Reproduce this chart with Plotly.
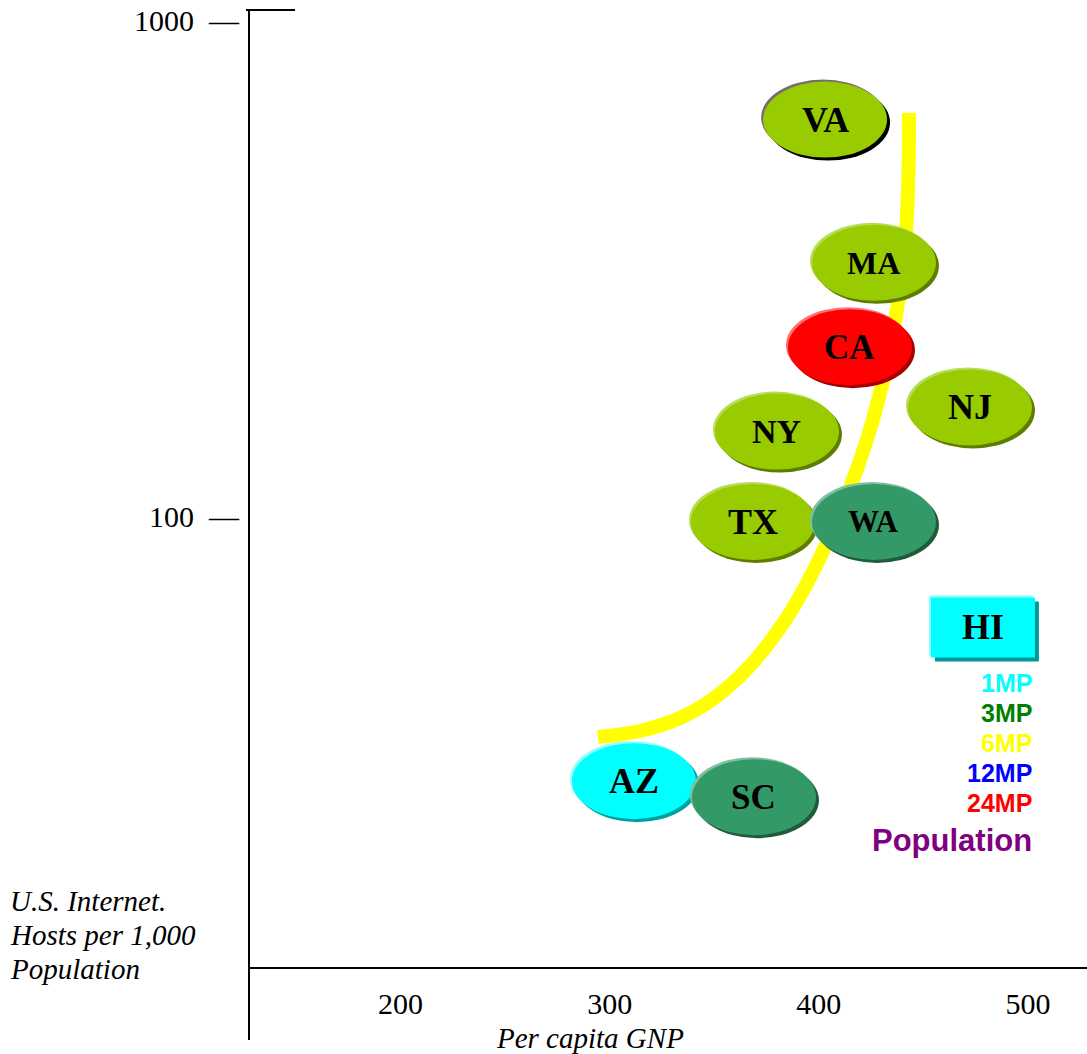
import math
import plotly.graph_objects as go

# State markers: per-capita GNP vs. internet hosts per 1,000 population
STATES = ["VA", "MA", "CA", "NJ", "NY", "TX", "WA", "AZ", "SC"]
GNP = [403, 426.4, 414.9, 472.3, 380, 368.5, 426.4, 311.6, 369]
HOSTS = [630, 324, 219, 165.5, 148, 97.3, 97.3, 29.2, 27.1]
FILL = ["#99CC00", "#99CC00", "#FF0000", "#99CC00", "#99CC00",
        "#99CC00", "#339966", "#00FFFF", "#339966"]
LABEL_SIZE = [36, 32, 35, 36, 34, 36, 31, 36, 35]

# Hawaii drawn as a box
HI_GNP, HI_HOSTS = 478.5, 59.6

# Hand-drawn trend curve
TREND_GNP = [294.4, 314.5, 333.6, 349.4, 365.7, 381.4, 393.4, 405.4,
             414.9, 424.0, 430.2, 435.5, 439.8, 442.2, 443.0, 443.1]
TREND_HOSTS = [35.85, 36.86, 39.15, 42.77, 49.15, 59.46, 71.91, 91.14,
               113.9, 147.0, 183.7, 234.9, 307.6, 406.3, 522.1, 649.3]

# Axis ticks
X_TICKS = [200, 300, 400, 500]
Y_TICKS = [100, 1000]

# Population legend entries
LEGEND_TEXT = ["1MP", "3MP", "6MP", "12MP", "24MP"]
LEGEND_COLOR = ["#00FFFF", "#008000", "#FFFF00", "#0000FF", "#FF0000"]

# Vertical axis caption, one entry per line
Y_TITLE_LINES = ["U.S. Internet.", "Hosts per 1,000", "Population"]

W, H = 1087, 1054
L, R, T, B = 250, 0, 10, 14
PW, PH = W - L - R, H - T - B


def px_x(px):
    return (px - L) / PW


def px_y(py):
    return (H - B - py) / PH


def lg(v):
    # hosts are plotted on a decade (log10) scale
    return math.log10(v)


SHADE = {
    "#99CC00": ("#B8DC55", "#5E7D00"),
    "#FF0000": ("#FF7070", "#A80000"),
    "#339966": ("#80BFA0", "#1E5C3C"),
    "#00FFFF": ("#90FFFF", "#00A0A0"),
}

SERIF = "Liberation Serif, Times New Roman, serif"
SANS = "Liberation Sans, Arial, sans-serif"

fig = go.Figure()

fig.add_trace(go.Scatter(
    x=TREND_GNP, y=[lg(v) for v in TREND_HOSTS], mode="lines",
    line=dict(color="#FFFF00", width=14, shape="spline", smoothing=1.0,
              simplify=False),
    hoverinfo="skip", showlegend=False,
))

shapes = []
annotations = []

EW, EH = 62, 38
for st, g, h, col, fs in zip(STATES, GNP, HOSTS, FILL, LABEL_SIZE):
    light, dark = SHADE[col]
    if st == "VA":
        light, dark = "#707070", "#000000"
    for dx, dy, c in [(3, -3, dark), (-2, 2, light), (0, 0, col)]:
        shapes.append(dict(
            type="circle", xref="x", yref="y",
            xsizemode="pixel", ysizemode="pixel",
            xanchor=g, yanchor=lg(h),
            x0=-EW + dx, x1=EW + dx, y0=-EH + dy, y1=EH + dy,
            fillcolor=c, line=dict(width=0), layer="above",
        ))
    annotations.append(dict(
        x=g, y=lg(h), xref="x", yref="y", text=f"<b>{st}</b>",
        showarrow=False, font=dict(family=SERIF, size=fs, color="black"),
        xanchor="center", yanchor="middle",
    ))

# HI box
for dx, dy, c in [(4, -4, "#009999"), (-2, 2, "#90FFFF"), (0, 0, "#00FFFF")]:
    shapes.append(dict(
        type="rect", xref="x", yref="y",
        xsizemode="pixel", ysizemode="pixel",
        xanchor=HI_GNP, yanchor=lg(HI_HOSTS),
        x0=-52 + dx, x1=52 + dx, y0=-30 + dy, y1=30 + dy,
        fillcolor=c, line=dict(width=0), layer="above",
    ))
annotations.append(dict(
    x=HI_GNP, y=lg(HI_HOSTS), xref="x", yref="y", text="<b>HI</b>",
    showarrow=False, font=dict(family=SERIF, size=36, color="black"),
    xanchor="center", yanchor="middle",
))

# top stub of the vertical axis
shapes.append(dict(type="line", xref="paper", yref="paper",
                   x0=px_x(246), x1=px_x(295), y0=px_y(10), y1=px_y(10),
                   line=dict(color="black", width=2)))

# population legend
for i, (txt, c) in enumerate(zip(LEGEND_TEXT, LEGEND_COLOR)):
    annotations.append(dict(
        x=px_x(1034), y=px_y(683 + i * 30), xref="paper", yref="paper",
        text=f"<b>{txt}</b>", showarrow=False,
        font=dict(family=SANS, size=25, color=c),
        xanchor="right", yanchor="middle",
    ))
annotations.append(dict(
    x=px_x(1034), y=px_y(840), xref="paper", yref="paper",
    text="<b>Population</b>", showarrow=False,
    font=dict(family=SANS, size=31, color="#800080"),
    xanchor="right", yanchor="middle",
))

# axis titles
annotations.append(dict(
    x=px_x(590), y=px_y(1038), xref="paper", yref="paper",
    text="<i>Per capita GNP</i>", showarrow=False,
    font=dict(family=SERIF, size=29, color="black"),
    xanchor="center", yanchor="middle",
))
for i, line in enumerate(Y_TITLE_LINES):
    annotations.append(dict(
        x=px_x(8), y=px_y(901 + i * 34), xref="paper", yref="paper",
        text=f"<i>{line}</i>", showarrow=False, align="left",
        font=dict(family=SERIF, size=29, color="black"),
        xanchor="left", yanchor="middle",
    ))

fig.update_layout(
    width=W, height=H,
    margin=dict(l=L, r=R, t=T, b=B, pad=0),
    paper_bgcolor="white", plot_bgcolor="white",
    showlegend=False,
    shapes=shapes, annotations=annotations,
    xaxis=dict(
        range=[127.98, 528.27], showgrid=False, zeroline=False,
        showline=True, linecolor="black", linewidth=2,
        anchor="free", position=px_y(968),
        tickvals=X_TICKS, ticktext=[str(v) for v in X_TICKS], ticks="",
        ticklabelstandoff=9,
        tickfont=dict(family=SERIF, size=30, color="black"),
    ),
    yaxis=dict(
        range=[0.9435, 3.0202], showgrid=False, zeroline=False,
        showline=True, linecolor="black", linewidth=2,
        tickvals=[lg(v) for v in Y_TICKS],
        ticktext=[f"{v}  \u2014" for v in Y_TICKS], ticks="",
        ticklabelstandoff=3,
        tickfont=dict(family=SERIF, size=30, color="black"),
    ),
)

fig.write_html("out.html", config={"displayModeBar": False})
